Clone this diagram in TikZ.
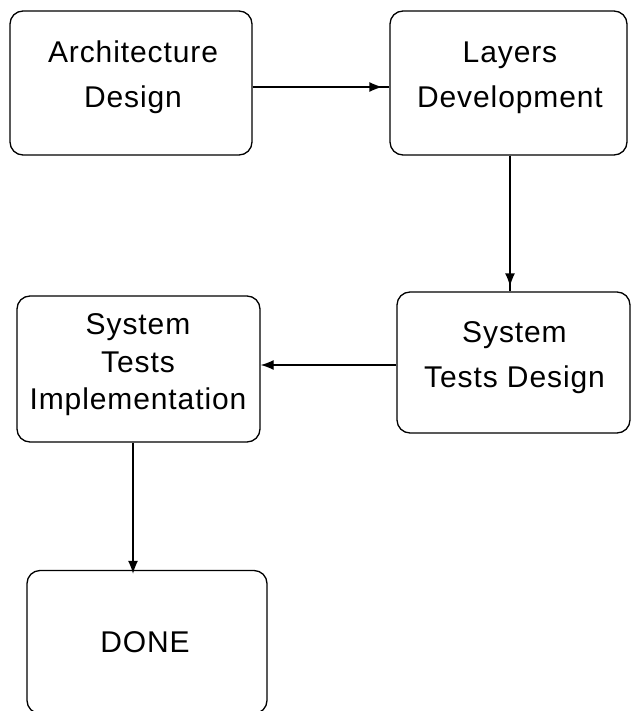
\documentclass[tikz,border=0pt]{standalone}
\usepackage{fontspec}
\setmainfont{Liberation Sans}[LetterSpace=3]
\usetikzlibrary{arrows.meta}
\begin{document}
\begin{tikzpicture}[x=1pt,y=-1pt,
  box/.style={draw=black, line width=1.3pt, rounded corners=13pt, rectangle, inner sep=0pt},
  lbl/.style={align=center, inner sep=0pt, font=\fontsize{30}{45}\selectfont},
  lbltight/.style={align=center, inner sep=0pt, font=\fontsize{30}{37.5}\selectfont},
  conn/.style={line width=1.3pt},
  tip/.style={line width=1.3pt, -{Latex[length=13pt,width=10pt]}}
]
\useasboundingbox (0,0) rectangle (633,711);
\clip (0,0) rectangle (633,711);
% boxes
\node[box, minimum width=242pt, minimum height=144pt] (arch) at (131,83) {};
\node[box, minimum width=237pt, minimum height=144pt] (layers) at (508.5,83) {};
\node[box, minimum width=233pt, minimum height=141pt] (std) at (513.5,362.5) {};
\node[box, minimum width=243pt, minimum height=146pt] (sti) at (138.5,369) {};
\node[box, minimum width=240pt, minimum height=143pt] (done) at (147,642) {};
% labels
\node[lbl] (archt) at (133,77.7) {Architecture\\Design};
\node[lbl] (layerst) at (510,77.7) {Layers\\Development};
\node[lbl] (stdt) at (514.5,358) {System\\Tests Design};
\node[lbltight] (stit) at (138,365) {System\\Tests\\Implementation};
\node[lbl] (donet) at (145,642) {DONE};
% connectors
\coordinate (a1) at ([yshift=-4pt]arch.east);
\coordinate (a2) at (a1 -| layers.west);
\draw[conn] (a1) -- (a2);
\draw[tip, shorten >=7pt] (a1) -- (a2);
\coordinate (b1) at ([xshift=1.5pt]layers.south);
\coordinate (b2) at (b1 |- std.north);
\draw[conn] (b1) -- (b2);
\draw[tip, shorten >=5pt] (b1) -- (b2);
\coordinate (c1) at ([yshift=-2.5pt]std.west);
\coordinate (c2) at (c1 -| sti.east);
\draw[tip] (c1) -- (c2);
\coordinate (d1) at ([xshift=-5.5pt]sti.south);
\coordinate (d2) at (d1 |- done.north);
\draw[tip, shorten >=-4pt] (d1) -- (d2);
\end{tikzpicture}
\end{document}
